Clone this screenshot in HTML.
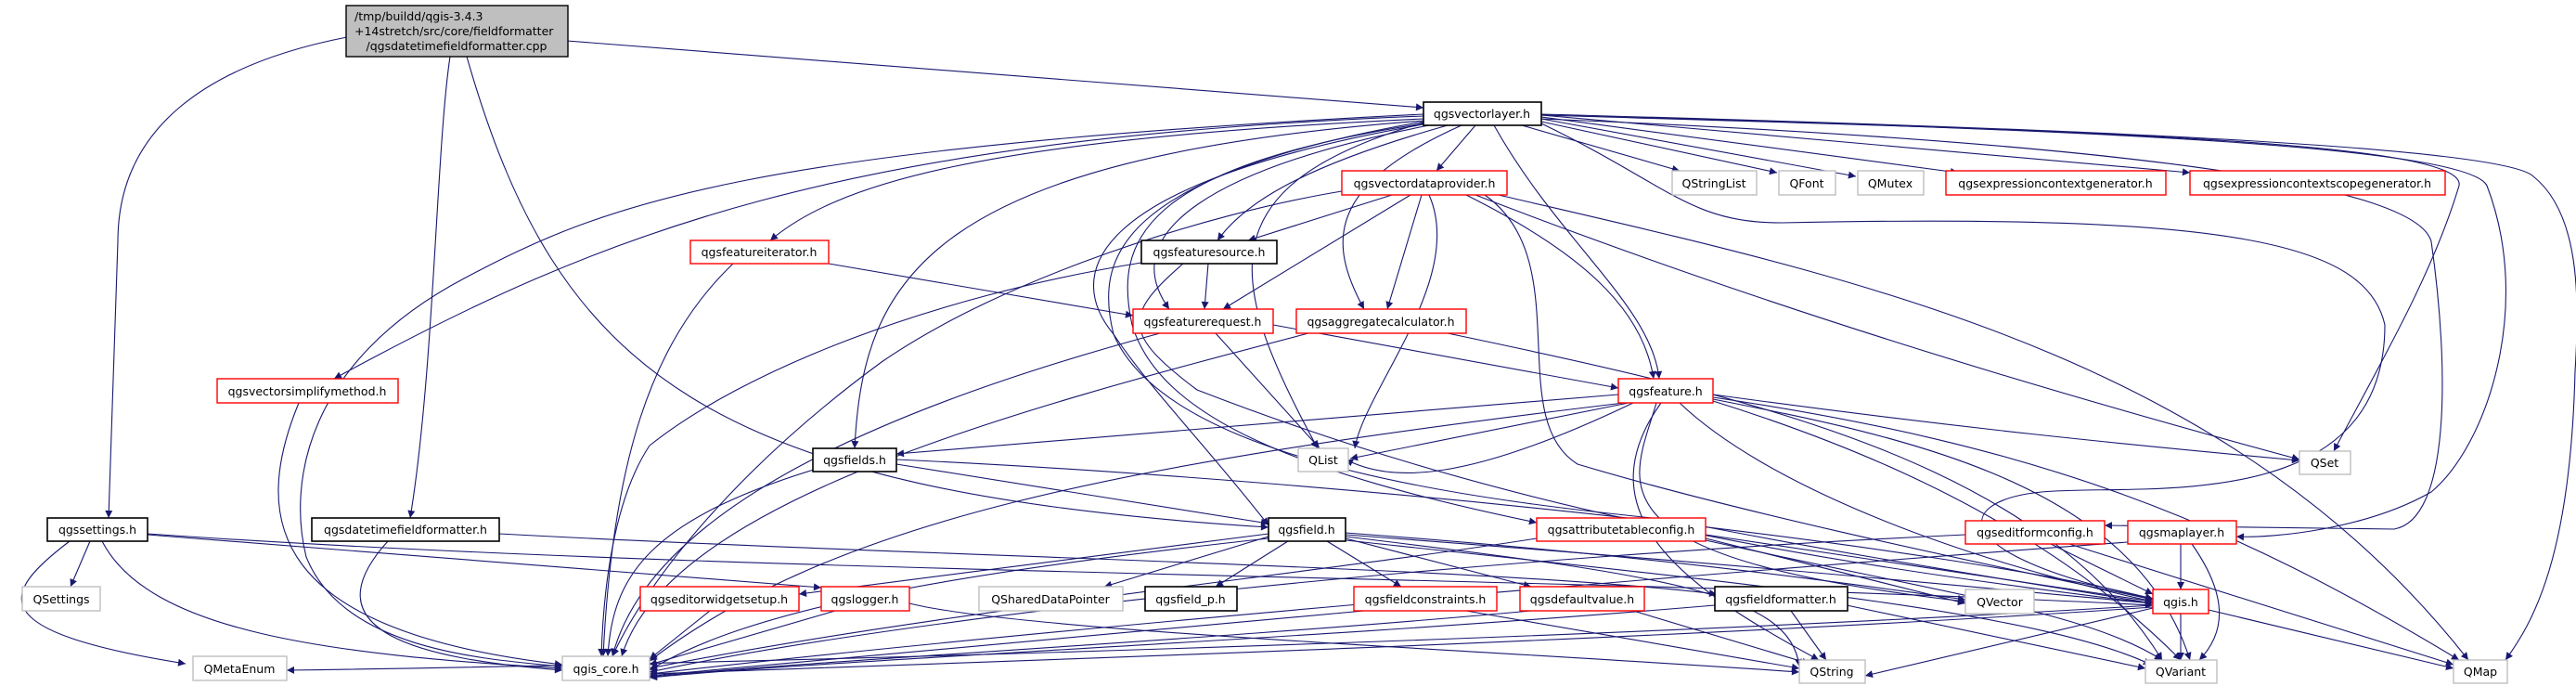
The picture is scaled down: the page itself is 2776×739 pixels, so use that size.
<!DOCTYPE html>
<html><head><meta charset="utf-8"><style>
html,body{margin:0;padding:0;background:#fff;}
svg{display:block;}
text{font-family:"DejaVu Sans","Liberation Sans",sans-serif;font-size:12.5px;fill:#000;}
.e{fill:none;stroke:#191970;stroke-width:1.1;marker-end:url(#a);}
.b{fill:#fff;stroke:#000;stroke-width:1.6;}
.r{fill:#fff;stroke:#ff0000;stroke-width:1.4;}
.g{fill:#fff;stroke:#bfbfbf;stroke-width:1.4;}
</style></head><body>
<svg width="2776" height="739" viewBox="0 0 2776 739" xmlns="http://www.w3.org/2000/svg">
<defs><marker id="a" viewBox="0 0 10 10" refX="10" refY="5" markerWidth="10" markerHeight="8" orient="auto" markerUnits="userSpaceOnUse"><path d="M0,0 L10,5 L0,10 z" fill="#191970"/></marker></defs>
<g>
<!-- main -->
<path class="e" d="M374,40 C220,70 127,140 127,260 L117,558"/>
<path class="e" d="M485,61 C470,160 468,400 442,558"/>
<path class="e" d="M503,61 C600,400 760,530 1367,568"/>
<path class="e" d="M611,44 L1534,116"/>
<!-- vectorlayer -->
<path class="e" d="M1590,135 L1548,184"/>
<path class="e" d="M1640,135 L1810,184"/>
<path class="e" d="M1661,131 L1915,186"/>
<path class="e" d="M1661,128 L2000,190"/>
<path class="e" d="M1661,126 L2110,186"/>
<path class="e" d="M1661,124 L2360,186"/>
<path class="e" d="M1661,124 C2200,140 2660,150 2650,200 C2620,300 2560,400 2515,486"/>
<path class="e" d="M1661,123 C2300,140 2700,160 2730,190 C2780,230 2780,320 2775,400 C2770,600 2730,670 2700,711"/>
<path class="e" d="M1661,124 C2300,140 2660,160 2680,200 C2730,330 2680,480 2620,530 C2550,570 2450,580 2410,578"/>
<path class="e" d="M1661,128 C2200,150 2600,190 2620,260 C2640,400 2640,560 2580,570 L2268,566"/>
<path class="e" d="M1661,133 C1800,200 1820,240 1920,240 C2400,230 2550,260 2570,350 C2570,560 2300,520 2200,530 C2100,540 2100,600 2320,645"/>
<path class="e" d="M1534,128 C1050,150 900,200 830,259"/>
<path class="e" d="M1534,125 C900,150 650,250 360,408"/>
<path class="e" d="M1534,123 C800,160 650,220 500,300 C330,390 310,520 330,600 C370,700 520,710 606,718"/>
<path class="e" d="M1534,130 C1000,170 930,300 921,483"/>
<path class="e" d="M1560,135 C1400,180 1340,220 1312,259"/>
<path class="e" d="M1540,135 C1310,180 1200,250 1260,333"/>
<path class="e" d="M1575,135 C1430,200 1430,260 1470,333"/>
<path class="e" d="M1610,135 C1680,260 1780,330 1788,408"/>
<path class="e" d="M1534,132 C1300,200 1320,300 1420,483"/>
<path class="e" d="M1534,134 C1160,200 1150,300 1200,360 C1240,420 1300,480 1367,566"/>
<path class="e" d="M1534,133 C1230,180 1200,260 1220,350 C1250,450 1400,510 1656,563"/>
<path class="e" d="M1534,131 C1200,190 1180,280 1200,360 C1260,500 1600,540 1800,560 C2000,600 2200,630 2320,650"/>
<!-- vdp -->
<path class="e" d="M1500,210 L1345,259"/>
<path class="e" d="M1520,210 L1318,333"/>
<path class="e" d="M1532,210 L1495,333"/>
<path class="e" d="M1580,210 C1700,270 1770,330 1782,408"/>
<path class="e" d="M1540,210 C1580,300 1470,420 1460,483"/>
<path class="e" d="M1590,210 C1900,330 2200,420 2478,495"/>
<path class="e" d="M1615,210 C2000,300 2400,380 2660,711"/>
<path class="e" d="M1446,206 C1300,230 1080,300 950,390 C800,500 700,620 660,707"/>
<path class="e" d="M1600,210 C1700,280 1620,450 1700,500 C1900,560 2200,620 2320,646"/>
<!-- featureiterator -->
<path class="e" d="M790,284 C700,370 660,500 650,707"/>
<path class="e" d="M893,284 L1221,340"/>
<!-- featuresource -->
<path class="e" d="M1302,284 L1298,333"/>
<path class="e" d="M1230,283 C1000,320 800,400 700,480 C660,540 650,640 648,707"/>
<path class="e" d="M1275,284 C1210,340 1210,360 1290,420 C1600,540 1900,600 2320,650"/>
<!-- featurerequest -->
<path class="e" d="M1372,350 L1744,418"/>
<path class="e" d="M1310,359 L1422,483"/>
<path class="e" d="M1250,359 C950,440 700,550 660,707"/>
<!-- aggcalc -->
<path class="e" d="M1410,359 C1100,440 720,540 670,707"/>
<path class="e" d="M1560,359 C1900,430 2200,500 2330,711"/>
<!-- vsm -->
<path class="e" d="M322,434 C270,560 290,680 606,716"/>
<!-- feature -->
<path class="e" d="M1744,425 L966,489"/>
<path class="e" d="M1755,434 L1455,494"/>
<path class="e" d="M1760,434 C1580,520 1500,520 1450,495"/>
<path class="e" d="M1846,425 C2100,460 2300,480 2478,496"/>
<path class="e" d="M1846,428 C2200,480 2400,560 2650,711"/>
<path class="e" d="M1846,430 C2050,470 2300,520 2360,711"/>
<path class="e" d="M1846,432 C2000,480 2200,560 2350,711"/>
<path class="e" d="M1750,434 C1200,500 900,560 700,712"/>
<path class="e" d="M1810,434 C1900,520 2100,600 2320,648"/>
<path class="e" d="M1790,434 C1700,560 1830,640 1960,711"/>
<path class="e" d="M1785,434 C1760,520 1700,600 2118,648"/>
<!-- fields -->
<path class="e" d="M966,500 L1367,564"/>
<path class="e" d="M880,505 C700,560 660,620 655,707"/>
<path class="e" d="M966,495 C1500,520 2100,590 2320,645"/>
<!-- settings -->
<path class="e" d="M97,583 L76,632"/>
<path class="e" d="M75,583 C0,640 -20,680 200,715"/>
<path class="e" d="M110,583 C160,680 350,705 606,720"/>
<path class="e" d="M159,576 L885,633"/>
<path class="e" d="M159,575 C800,620 1700,620 2320,652"/>
<!-- dtff -->
<path class="e" d="M418,583 C330,680 450,710 606,722"/>
<path class="e" d="M538,575 C1000,600 1600,610 1850,640"/>
<!-- field -->
<path class="e" d="M1367,578 L1190,632"/>
<path class="e" d="M1388,583 L1310,632"/>
<path class="e" d="M1430,583 L1510,632"/>
<path class="e" d="M1450,580 L1650,632"/>
<path class="e" d="M1367,575 L861,640"/>
<path class="e" d="M1367,580 C1000,620 800,660 700,722"/>
<path class="e" d="M1450,576 C1900,610 2100,630 2320,650"/>
<path class="e" d="M1450,578 C1800,620 1930,640 1939,718"/>
<path class="e" d="M1450,582 C1900,630 2200,660 2318,716"/>
<path class="e" d="M1450,574 C1800,600 2000,630 2118,646"/>
<!-- attr -->
<path class="e" d="M1656,580 C1400,620 1000,660 700,720"/>
<path class="e" d="M1838,576 L2320,648"/>
<path class="e" d="M1838,580 L2118,650"/>
<path class="e" d="M1838,582 C2100,640 2250,660 2330,711"/>
<!-- editformconfig -->
<path class="e" d="M2210,586 L2320,640"/>
<path class="e" d="M2118,576 C1600,600 1000,660 700,724"/>
<path class="e" d="M2230,586 L2644,716"/>
<!-- maplayer -->
<path class="e" d="M2350,586 L2350,635"/>
<path class="e" d="M2362,586 C2400,640 2400,680 2370,711"/>
<path class="e" d="M2293,584 C1800,620 1100,680 700,726"/>
<!-- small ones -->
<path class="e" d="M765,658 L700,710"/>
<path class="e" d="M900,658 L700,716"/>
<path class="e" d="M980,650 C1100,680 1600,700 1939,724"/>
<path class="e" d="M1470,658 L700,728"/>
<path class="e" d="M1580,658 L1939,720"/>
<path class="e" d="M1650,658 C1300,690 900,710 700,729"/>
<path class="e" d="M1760,658 L1950,715"/>
<path class="e" d="M1930,658 L1968,711"/>
<path class="e" d="M1990,652 L2312,720"/>
<path class="e" d="M1848,652 C1400,690 900,710 700,730"/>
<!-- qgis.h -->
<path class="e" d="M2350,661 L2350,711"/>
<path class="e" d="M2320,655 L2010,728"/>
<path class="e" d="M2380,657 L2644,720"/>
<path class="e" d="M2320,652 C1700,690 800,715 309,722"/>
<path class="e" d="M2320,654 C1800,690 1000,715 700,726"/>
</g>
<!-- nodes -->
<rect x="373" y="6" width="239" height="55" fill="#bfbfbf" stroke="#000" stroke-width="1.4"/>
<text x="382" y="22">/tmp/buildd/qgis-3.4.3</text>
<text x="382" y="38">+14stretch/src/core/fieldformatter</text>
<text x="492" y="54" text-anchor="middle">/qgsdatetimefieldformatter.cpp</text>

<rect class="b" x="1534" y="110" width="127" height="25"/><text x="1597" y="127" text-anchor="middle">qgsvectorlayer.h</text>
<rect class="r" x="1446" y="184" width="178" height="26"/><text x="1535" y="202" text-anchor="middle">qgsvectordataprovider.h</text>
<rect class="g" x="1802" y="184" width="91" height="26"/><text x="1847" y="202" text-anchor="middle">QStringList</text>
<rect class="g" x="1917" y="184" width="61" height="26"/><text x="1947" y="202" text-anchor="middle">QFont</text>
<rect class="g" x="2002" y="184" width="71" height="26"/><text x="2037" y="202" text-anchor="middle">QMutex</text>
<rect class="r" x="2097" y="184" width="237" height="26"/><text x="2215" y="202" text-anchor="middle">qgsexpressioncontextgenerator.h</text>
<rect class="r" x="2360" y="184" width="275" height="26"/><text x="2497" y="202" text-anchor="middle">qgsexpressioncontextscopegenerator.h</text>

<rect class="r" x="744" y="259" width="149" height="25"/><text x="818" y="276" text-anchor="middle">qgsfeatureiterator.h</text>
<rect class="b" x="1230" y="259" width="146" height="25"/><text x="1303" y="276" text-anchor="middle">qgsfeaturesource.h</text>

<rect class="r" x="1221" y="333" width="151" height="26"/><text x="1296" y="351" text-anchor="middle">qgsfeaturerequest.h</text>
<rect class="r" x="1397" y="333" width="183" height="26"/><text x="1488" y="351" text-anchor="middle">qgsaggregatecalculator.h</text>

<rect class="r" x="234" y="408" width="195" height="26"/><text x="331" y="426" text-anchor="middle">qgsvectorsimplifymethod.h</text>
<rect class="r" x="1744" y="408" width="102" height="26"/><text x="1795" y="426" text-anchor="middle">qgsfeature.h</text>

<rect class="b" x="876" y="483" width="90" height="25"/><text x="921" y="500" text-anchor="middle">qgsfields.h</text>
<rect class="g" x="1399" y="483" width="54" height="25"/><text x="1426" y="500" text-anchor="middle">QList</text>
<rect class="g" x="2478" y="486" width="55" height="25"/><text x="2505" y="503" text-anchor="middle">QSet</text>

<rect class="b" x="51" y="558" width="108" height="25"/><text x="105" y="575" text-anchor="middle">qgssettings.h</text>
<rect class="b" x="336" y="558" width="202" height="25"/><text x="437" y="575" text-anchor="middle">qgsdatetimefieldformatter.h</text>
<rect class="b" x="1367" y="558" width="83" height="25"/><text x="1408" y="575" text-anchor="middle">qgsfield.h</text>
<rect class="r" x="1656" y="558" width="182" height="25"/><text x="1747" y="575" text-anchor="middle">qgsattributetableconfig.h</text>
<rect class="r" x="2118" y="561" width="150" height="25"/><text x="2193" y="578" text-anchor="middle">qgseditformconfig.h</text>
<rect class="r" x="2293" y="561" width="117" height="25"/><text x="2351" y="578" text-anchor="middle">qgsmaplayer.h</text>

<rect class="g" x="24" y="632" width="84" height="26"/><text x="66" y="650" text-anchor="middle">QSettings</text>
<rect class="r" x="690" y="632" width="171" height="26"/><text x="775" y="650" text-anchor="middle">qgseditorwidgetsetup.h</text>
<rect class="r" x="885" y="632" width="95" height="26"/><text x="932" y="650" text-anchor="middle">qgslogger.h</text>
<rect class="g" x="1055" y="632" width="155" height="26"/><text x="1132" y="650" text-anchor="middle">QSharedDataPointer</text>
<rect class="b" x="1234" y="632" width="99" height="26"/><text x="1283" y="650" text-anchor="middle">qgsfield_p.h</text>
<rect class="r" x="1459" y="632" width="154" height="26"/><text x="1536" y="650" text-anchor="middle">qgsfieldconstraints.h</text>
<rect class="r" x="1638" y="632" width="134" height="26"/><text x="1705" y="650" text-anchor="middle">qgsdefaultvalue.h</text>
<rect class="b" x="1848" y="632" width="143" height="26"/><text x="1919" y="650" text-anchor="middle">qgsfieldformatter.h</text>
<rect class="g" x="2118" y="635" width="74" height="26"/><text x="2155" y="653" text-anchor="middle">QVector</text>
<rect class="r" x="2320" y="635" width="60" height="26"/><text x="2350" y="653" text-anchor="middle">qgis.h</text>

<rect class="g" x="208" y="707" width="101" height="26"/><text x="258" y="725" text-anchor="middle">QMetaEnum</text>
<rect class="g" x="606" y="707" width="94" height="26"/><text x="653" y="725" text-anchor="middle">qgis_core.h</text>
<rect class="g" x="1939" y="711" width="71" height="25"/><text x="1974" y="728" text-anchor="middle">QString</text>
<rect class="g" x="2312" y="711" width="77" height="25"/><text x="2350" y="728" text-anchor="middle">QVariant</text>
<rect class="g" x="2644" y="711" width="58" height="25"/><text x="2673" y="728" text-anchor="middle">QMap</text>
</svg>
</body></html>
